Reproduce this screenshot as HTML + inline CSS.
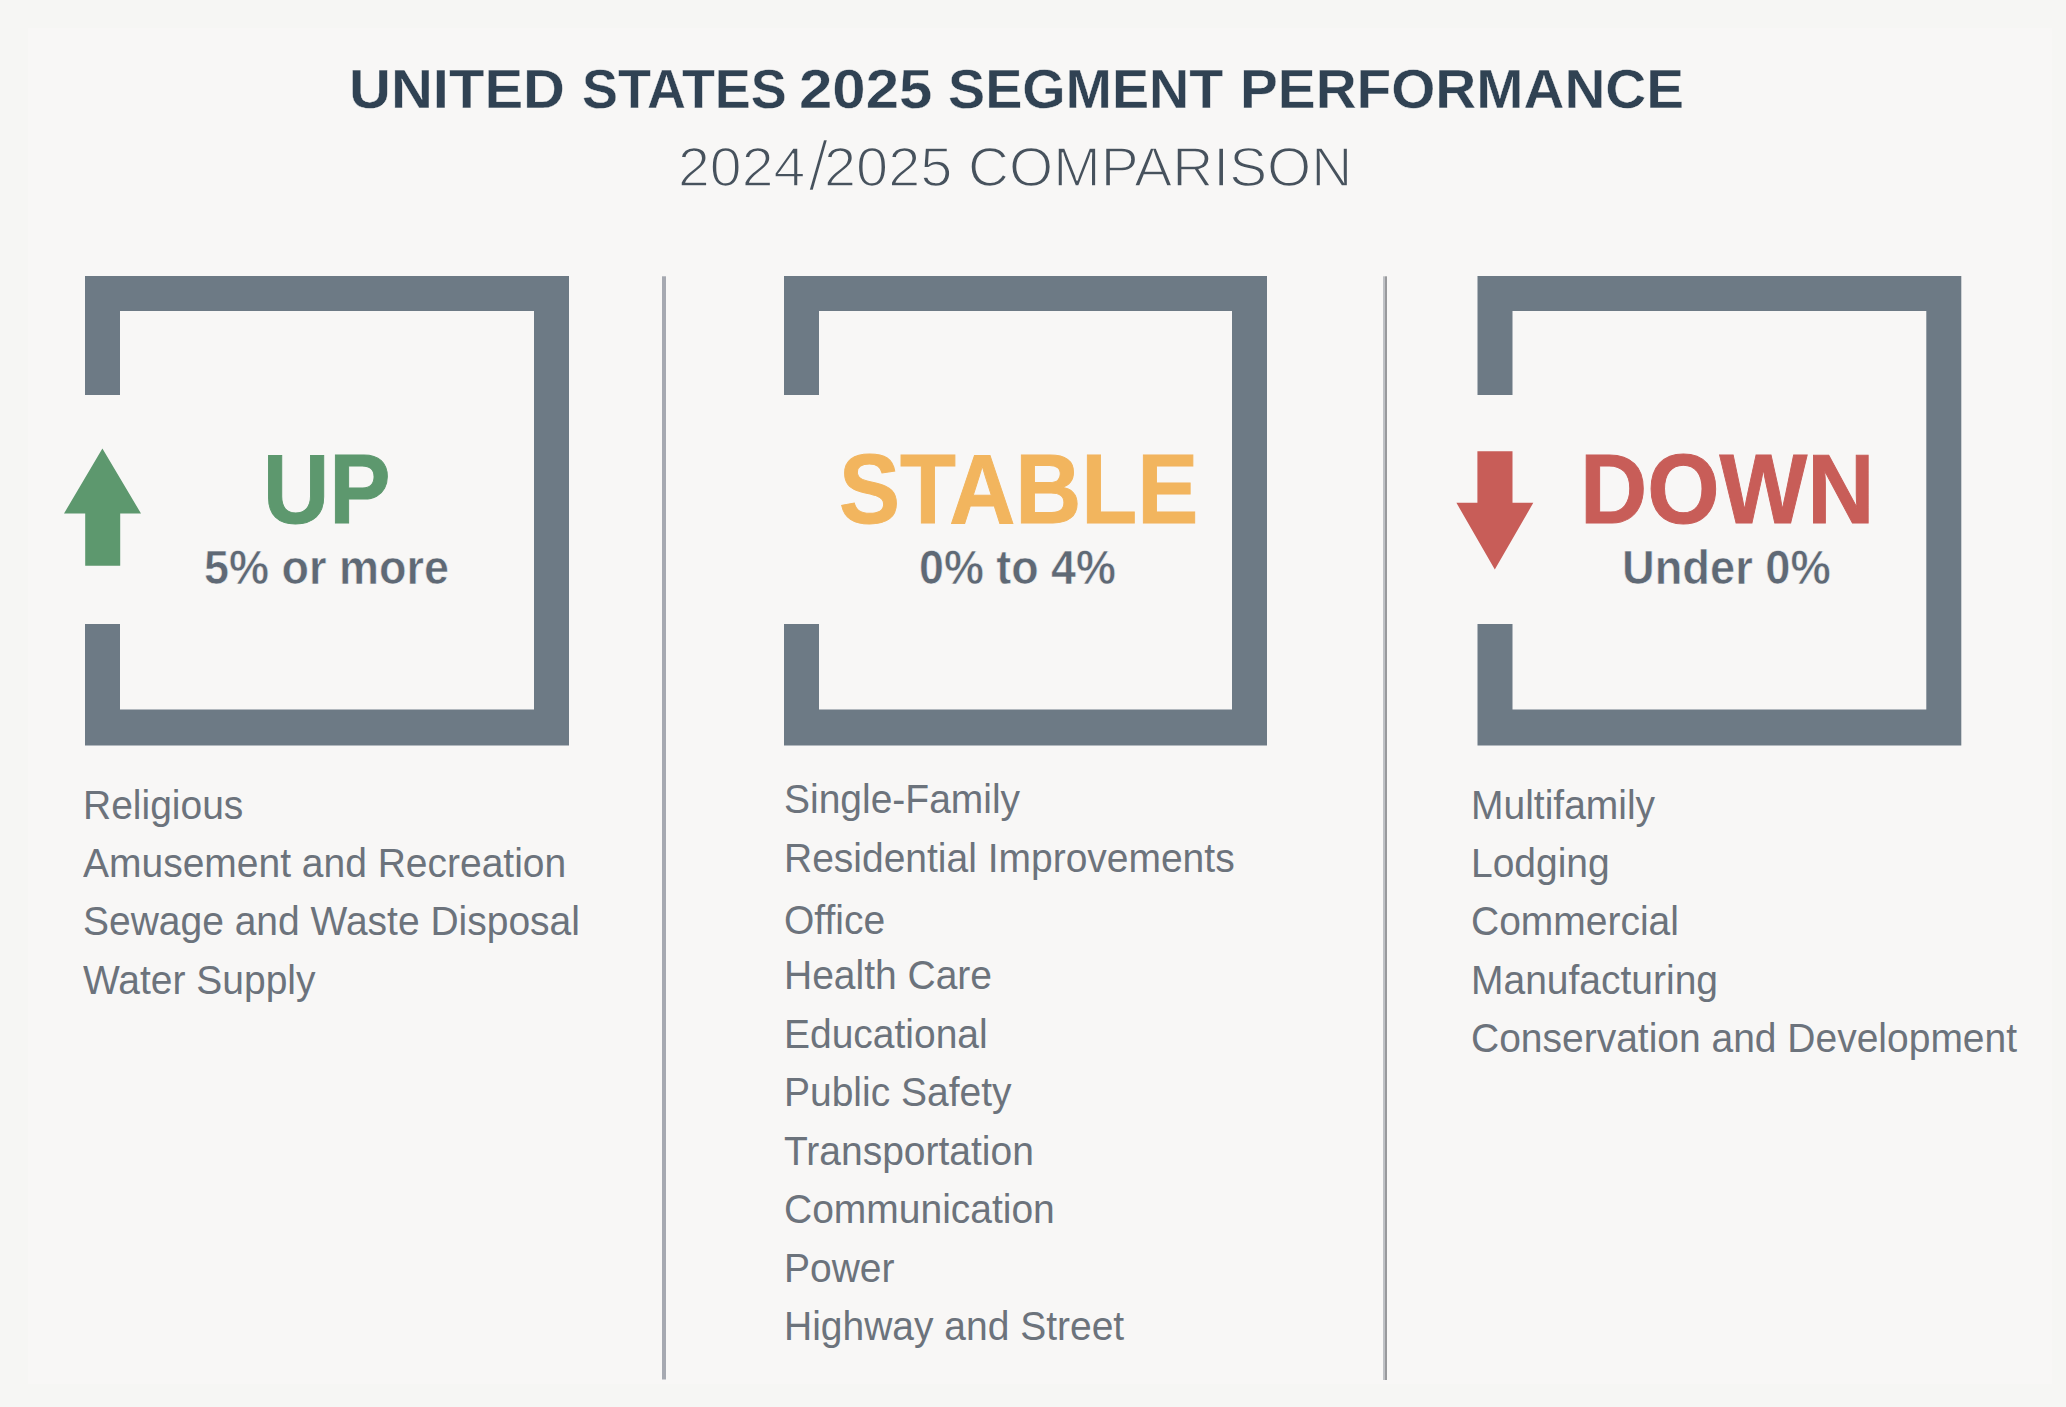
<!DOCTYPE html>
<html lang="en"><head><meta charset="utf-8"><title>United States 2025 Segment Performance</title>
<style>
html,body{margin:0;padding:0;}
body{width:2066px;height:1407px;overflow:hidden;background:#f6f6f4;position:relative;font-family:"Liberation Sans",sans-serif;}
.panel{position:absolute;left:28px;top:28px;width:2024px;height:1356px;background:#f8f7f6;}
.shapes{position:absolute;left:0;top:0;}
.t{position:absolute;white-space:nowrap;line-height:1;transform-origin:0 50%;font-family:"Liberation Sans",sans-serif;}
.light{-webkit-text-stroke:1.6px #f8f7f6;paint-order:fill stroke;}
.light2{-webkit-text-stroke:2.7px #f8f7f6;paint-order:fill stroke;}
.heavy{-webkit-text-stroke:1px currentColor;}
.thin{-webkit-text-stroke:0.6px #f8f7f6;paint-order:fill stroke;}
.semi{-webkit-text-stroke:0.4px #f8f7f6;paint-order:fill stroke;}
</style></head>
<body>
<div class="panel"></div>
<svg class="shapes" width="2066" height="1407" viewBox="0 0 2066 1407">
<path fill="#6d7a85" d="M85 276H569V745.5H85V624H120V709.5H534V311H120V395H85Z"/>
<path fill="#6d7a85" d="M784 276H1267V745.5H784V624H819V709.5H1232V311H819V395H784Z"/>
<path fill="#6d7a85" d="M1477.5 276H1961.3V745.5H1477.5V624H1512.5V709.5H1926.3V311H1512.5V395H1477.5Z"/>
<rect x="662" y="276.3" width="4" height="1103.2" fill="#a6a9b1"/>
<rect x="1383" y="276.3" width="2" height="1103.7" fill="#bfc1c5"/>
<rect x="1385" y="276.3" width="2" height="1103.7" fill="#98999c"/>
<path fill="#5d986e" d="M102.4 448.5L141 513.5H120.2V565.8H85.2V513.5H64Z"/>
<path fill="#c85d58" d="M1477.4 451.2H1512.5V502.8H1533.3L1494.8 569.5L1456.4 502.8H1477.4Z"/>
</svg>
<header>
<div class="title">
<div class="t semi" style="left:349.07px;top:62px;font-size:55.7px;color:#304253;font-weight:700;transform:scaleX(1.0421);">UNITED</div>
<div class="t semi" style="left:581.73px;top:62px;font-size:55.7px;color:#304253;font-weight:700;transform:scaleX(0.9688);">STATES</div>
<div class="t semi" style="left:799.05px;top:62px;font-size:55.7px;color:#304253;font-weight:700;transform:scaleX(1.0760);">2025</div>
<div class="t semi" style="left:948.20px;top:62px;font-size:55.7px;color:#304253;font-weight:700;transform:scaleX(0.9996);">SEGMENT</div>
<div class="t semi" style="left:1240.35px;top:62px;font-size:55.7px;color:#304253;font-weight:700;transform:scaleX(1.0181);">PERFORMANCE</div>
</div>
<div class="subtitle">
<div class="t light" style="left:677.93px;top:139px;font-size:56px;color:#47525d;transform:scaleX(1.0217);">2024</div>
<div class="t light2" style="left:808.00px;top:131px;font-size:70px;color:#47525d;transform:scaleX(1.0600);">/</div>
<div class="t light" style="left:823.91px;top:139px;font-size:56px;color:#47525d;transform:scaleX(1.0300);">2025</div>
<div class="t light" style="left:967.55px;top:139px;font-size:56px;color:#47525d;transform:scaleX(1.0154);">COMPARISON</div>
</div>
</header>
<section class="up">
<div class="t heavy" style="left:263.13px;top:439px;font-size:99px;color:#5d986e;font-weight:700;transform:scaleX(0.9281);">UP</div>
<div class="t thin" style="left:203.68px;top:543px;font-size:48.7px;color:#5f6975;font-weight:700;transform:scaleX(0.9240);">5% or more</div>
<div class="list">
<div class="t" style="left:82.60px;top:785px;font-size:40.6px;color:#6c737c;transform:scaleX(0.9606);">Religious</div>
<div class="t" style="left:82.60px;top:843px;font-size:40.6px;color:#6c737c;transform:scaleX(0.9606);">Amusement and Recreation</div>
<div class="t" style="left:82.60px;top:901px;font-size:40.6px;color:#6c737c;transform:scaleX(0.9606);">Sewage and Waste Disposal</div>
<div class="t" style="left:82.60px;top:960px;font-size:40.6px;color:#6c737c;transform:scaleX(0.9606);">Water Supply</div>
</div>
</section>
<section class="stable">
<div class="t heavy" style="left:838.73px;top:439px;font-size:99px;color:#f2b55e;font-weight:700;transform:scaleX(0.9243);">STABLE</div>
<div class="t thin" style="left:919.36px;top:543px;font-size:48.7px;color:#5f6975;font-weight:700;transform:scaleX(0.9209);">0% to 4%</div>
<div class="list">
<div class="t" style="left:784.40px;top:779px;font-size:40.6px;color:#6c737c;transform:scaleX(0.9606);">Single-Family</div>
<div class="t" style="left:784.40px;top:838px;font-size:40.6px;color:#6c737c;transform:scaleX(0.9606);">Residential Improvements</div>
<div class="t" style="left:784.40px;top:900px;font-size:40.6px;color:#6c737c;transform:scaleX(0.9606);">Office</div>
<div class="t" style="left:784.40px;top:955px;font-size:40.6px;color:#6c737c;transform:scaleX(0.9606);">Health Care</div>
<div class="t" style="left:784.40px;top:1014px;font-size:40.6px;color:#6c737c;transform:scaleX(0.9606);">Educational</div>
<div class="t" style="left:784.40px;top:1072px;font-size:40.6px;color:#6c737c;transform:scaleX(0.9606);">Public Safety</div>
<div class="t" style="left:784.40px;top:1131px;font-size:40.6px;color:#6c737c;transform:scaleX(0.9606);">Transportation</div>
<div class="t" style="left:784.40px;top:1189px;font-size:40.6px;color:#6c737c;transform:scaleX(0.9606);">Communication</div>
<div class="t" style="left:784.40px;top:1248px;font-size:40.6px;color:#6c737c;transform:scaleX(0.9606);">Power</div>
<div class="t" style="left:784.40px;top:1306px;font-size:40.6px;color:#6c737c;transform:scaleX(0.9606);">Highway and Street</div>
</div>
</section>
<section class="down">
<div class="t heavy" style="left:1579.76px;top:439px;font-size:99px;color:#c85d58;font-weight:700;transform:scaleX(0.9392);">DOWN</div>
<div class="t thin" style="left:1622.31px;top:543px;font-size:48.7px;color:#5f6975;font-weight:700;transform:scaleX(0.9295);">Under 0%</div>
<div class="list">
<div class="t" style="left:1471.30px;top:785px;font-size:40.6px;color:#6c737c;transform:scaleX(0.9606);">Multifamily</div>
<div class="t" style="left:1471.30px;top:843px;font-size:40.6px;color:#6c737c;transform:scaleX(0.9606);">Lodging</div>
<div class="t" style="left:1471.30px;top:901px;font-size:40.6px;color:#6c737c;transform:scaleX(0.9606);">Commercial</div>
<div class="t" style="left:1471.30px;top:960px;font-size:40.6px;color:#6c737c;transform:scaleX(0.9606);">Manufacturing</div>
<div class="t" style="left:1471.30px;top:1018px;font-size:40.6px;color:#6c737c;transform:scaleX(0.9606);">Conservation and Development</div>
</div>
</section>
</body></html>
